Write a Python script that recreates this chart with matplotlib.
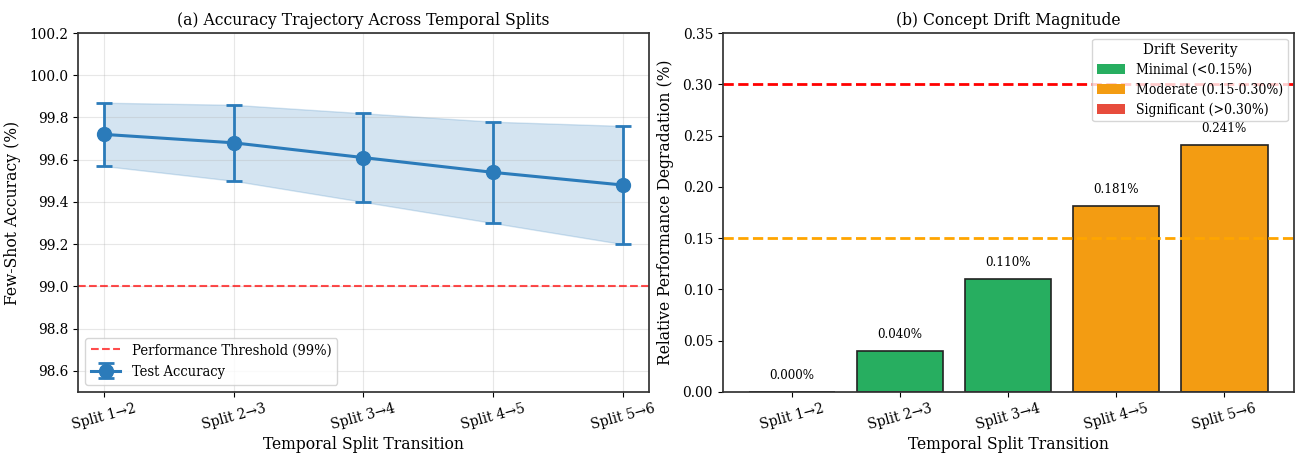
import numpy as np
import matplotlib
matplotlib.use('Agg')
import matplotlib.pyplot as plt
from matplotlib.patches import Patch

plt.rcParams['font.family'] = 'DejaVu Serif'
plt.rcParams['font.stretch'] = 'condensed'
plt.rcParams['axes.edgecolor'] = '#333333'
plt.rcParams['axes.linewidth'] = 1.25

splits = ['Split 1→2', 'Split 2→3', 'Split 3→4', 'Split 4→5', 'Split 5→6']
accuracy = [99.72, 99.68, 99.61, 99.54, 99.48]
acc_std = [0.15, 0.18, 0.21, 0.24, 0.28]
degradation = [0.000, 0.040, 0.110, 0.181, 0.241]

green = '#27ae60'
orange = '#f39c12'
red = '#e74c3c'

fig, (ax1, ax2) = plt.subplots(1, 2, figsize=(13, 4.53), dpi=100)
fig.subplots_adjust(left=0.06, right=0.995, top=0.927, bottom=0.135, wspace=0.13)

x = np.arange(len(splits))
acc = np.array(accuracy)
sd = np.array(acc_std)
ax1.errorbar(x, acc, yerr=sd, fmt='-o', color='#2b7bba', linewidth=2.2,
             markersize=10, capsize=6, capthick=2, elinewidth=2, label='Test Accuracy')
ax1.fill_between(x, acc - sd, acc + sd, color='#2b7bba', alpha=0.2)
ax1.axhline(99.0, color='red', linestyle='--', alpha=0.7, linewidth=1.5,
            label='Performance Threshold (99%)')
ax1.set_xticks(x)
ax1.set_xticklabels(splits, rotation=15, fontsize=11)
ax1.tick_params(axis='y', labelsize=11)
ax1.set_xlim(-0.2, 4.2)
ax1.set_ylim(98.5, 100.2)
ax1.set_xlabel('Temporal Split Transition', fontsize=12.5, labelpad=3)
ax1.set_ylabel('Few-Shot Accuracy (%)', fontsize=12.5, labelpad=6)
ax1.set_title('(a) Accuracy Trajectory Across Temporal Splits', fontsize=12.5)
ax1.grid(True, alpha=0.3)
ax1.legend(loc='lower left', fontsize=10.5)

colors = [green if d < 0.15 else (orange if d < 0.30 else red) for d in degradation]
bars = ax2.bar(x, degradation, color=colors, edgecolor='#222222', linewidth=1.2)
for b, d in zip(bars, degradation):
    ax2.text(b.get_x() + b.get_width() / 2, d + 0.01, f'{d:.3f}%',
             ha='center', va='bottom', fontsize=9.5)
ax2.axhline(0.15, color='orange', linestyle='--', linewidth=2)
ax2.axhline(0.30, color='red', linestyle='--', linewidth=2)
ax2.set_xticks(x)
ax2.set_xticklabels(splits, rotation=15, fontsize=11)
ax2.tick_params(axis='y', labelsize=11)
ax2.set_ylim(0, 0.35)
ax2.set_xlabel('Temporal Split Transition', fontsize=12.5, labelpad=3)
ax2.set_ylabel('Relative Performance Degradation (%)', fontsize=12.5, labelpad=6)
ax2.set_title('(b) Concept Drift Magnitude', fontsize=12.5)
handles = [Patch(facecolor=green, label='Minimal (<0.15%)'),
           Patch(facecolor=orange, label='Moderate (0.15-0.30%)'),
           Patch(facecolor=red, label='Significant (>0.30%)')]
ax2.legend(handles=handles, loc='upper right', title='Drift Severity',
           fontsize=10, title_fontsize=11, labelspacing=0.4, borderpad=0.35,
           borderaxespad=0.4)

plt.savefig('out.png')
